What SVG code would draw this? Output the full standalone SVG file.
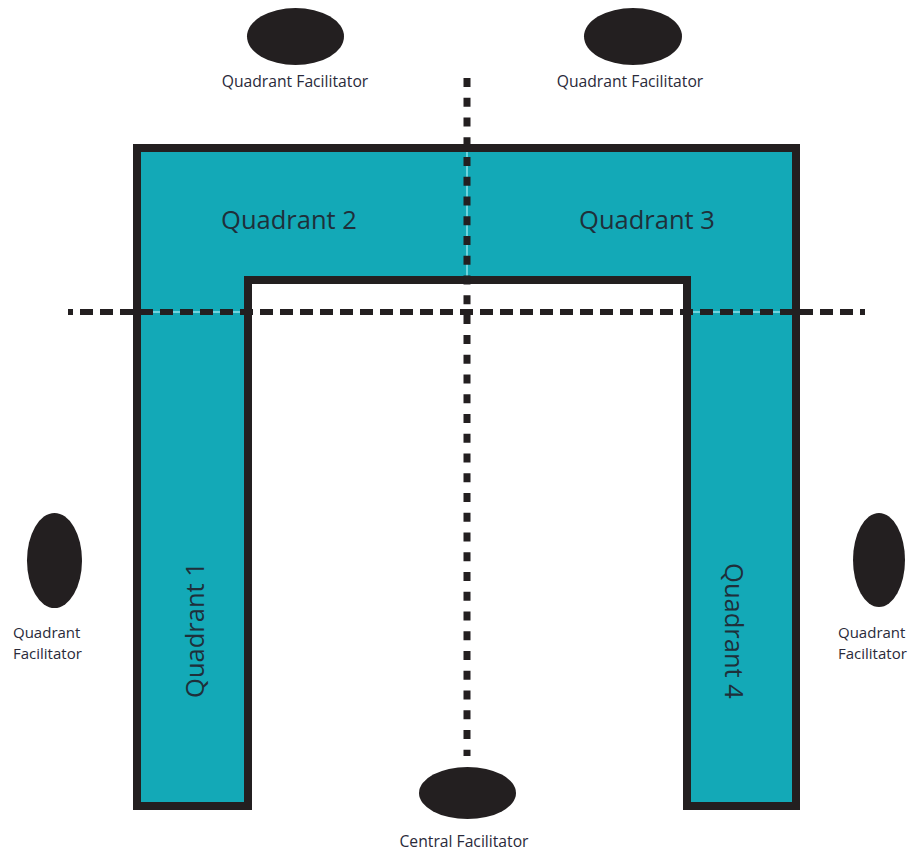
<svg xmlns="http://www.w3.org/2000/svg" width="912" height="852" viewBox="0 0 912 852">
  <style>
    .table { fill: #13a9b7; stroke: #231f20; stroke-width: 8; stroke-linejoin: miter; }
    .seat { fill: #231f20; }
    .qlabel { font-family: "Open Sans", "Noto Sans", "DejaVu Sans", sans-serif; font-size: 25.5px; fill: #1f2f3a; }
    .flabel { font-family: "Open Sans", "Noto Sans", "DejaVu Sans", sans-serif; font-size: 15.7px; fill: #2a2a3a; }
    .side { font-size: 15px; }
    .divider { fill: none; stroke: #231f20; }
    .hairline { fill: none; stroke: #8ee3ea; stroke-width: 1.5; }
  </style>

  <!-- U-shaped table -->
  <g id="table">
    <path class="table" d="M137,806 V148 H796 V806 H687 V280 H248 V806 Z"/>
  </g>

  <!-- quadrant labels -->
  <g id="quadrant-2"><text class="qlabel" x="289" y="229" text-anchor="middle">Quadrant 2</text></g>
  <g id="quadrant-3"><text class="qlabel" x="647" y="229" text-anchor="middle">Quadrant 3</text></g>
  <g id="quadrant-1"><text class="qlabel" transform="translate(204,630) rotate(-90)" text-anchor="middle">Quadrant 1</text></g>
  <g id="quadrant-4"><text class="qlabel" transform="translate(725,631) rotate(90)" text-anchor="middle">Quadrant 4</text></g>

  <!-- dividing lines -->
  <g id="connectors">
    <line class="hairline" x1="141" y1="312" x2="244" y2="312"/>
    <line class="hairline" x1="691" y1="312" x2="792" y2="312"/>
    <line class="hairline" x1="467" y1="152" x2="467" y2="276"/>
    <line class="divider" x1="68" y1="312" x2="865" y2="312" stroke-width="6" stroke-dasharray="13 7" stroke-dashoffset="8"/>
    <line class="divider" x1="467" y1="78" x2="467" y2="756" stroke-width="7" stroke-dasharray="9 10.76"/>
  </g>

  <!-- facilitators -->
  <g id="facilitator-top-left">
    <ellipse class="seat" cx="295.5" cy="36.5" rx="48.5" ry="28.5"/>
    <text class="flabel" x="295" y="87" text-anchor="middle">Quadrant Facilitator</text>
  </g>
  <g id="facilitator-top-right">
    <ellipse class="seat" cx="633" cy="36.5" rx="49" ry="28.5"/>
    <text class="flabel" x="630" y="87" text-anchor="middle">Quadrant Facilitator</text>
  </g>
  <g id="facilitator-left">
    <ellipse class="seat" cx="54.5" cy="560.5" rx="27.5" ry="47.5"/>
    <text class="flabel side" x="13" y="638">Quadrant</text>
    <text class="flabel side" x="13" y="659">Facilitator</text>
  </g>
  <g id="facilitator-right">
    <ellipse class="seat" cx="879" cy="560" rx="26" ry="47"/>
    <text class="flabel side" x="838" y="638">Quadrant</text>
    <text class="flabel side" x="838" y="659">Facilitator</text>
  </g>
  <g id="facilitator-central">
    <ellipse class="seat" cx="467.5" cy="793" rx="48.5" ry="26"/>
    <text class="flabel" x="464" y="847" text-anchor="middle">Central Facilitator</text>
  </g>
</svg>
